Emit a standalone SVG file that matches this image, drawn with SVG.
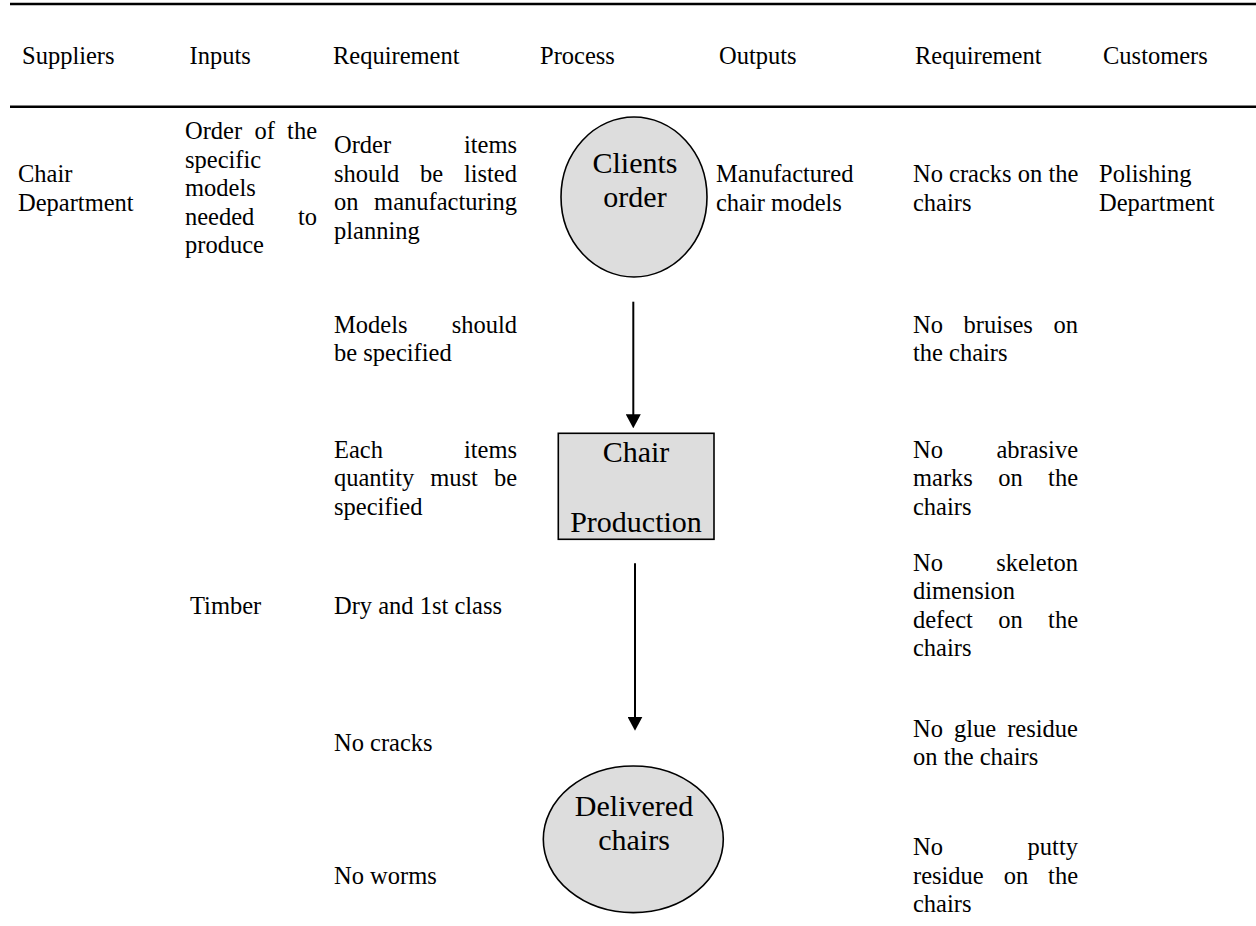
<svg xmlns="http://www.w3.org/2000/svg" width="1256" height="926" viewBox="0 0 1256 926">
<style>
.t{font-family:"Liberation Serif","Times New Roman",serif;font-size:24.5px;fill:#000}
.n{font-family:"Liberation Serif","Times New Roman",serif;font-size:30px;fill:#000;text-anchor:middle}
.shape{fill:#dddddd;stroke:#000;stroke-width:1.6}
.rule{stroke:#000;stroke-width:2.6}
.conn{stroke:#000;stroke-width:2;fill:none}
</style>
<defs>
<marker id="arr" viewBox="0 0 14 15" refX="8" refY="7.5" markerWidth="14" markerHeight="15" markerUnits="userSpaceOnUse" orient="auto">
<path d="M0,0 L14,7.5 L0,15 z" fill="#000"/>
</marker>
</defs>
<rect width="1256" height="926" fill="#fff"/>
<g id="rules">
<line class="rule" x1="10" y1="4" x2="1256" y2="4"/>
<line class="rule" x1="10" y1="106.7" x2="1256" y2="106.7"/>
</g>
<g id="headers" class="t">
<text x="22" y="64">Suppliers</text>
<text x="189.5" y="64">Inputs</text>
<text x="333" y="64">Requirement</text>
<text x="540" y="64">Process</text>
<text x="719" y="64">Outputs</text>
<text x="915" y="64">Requirement</text>
<text x="1103" y="64">Customers</text>
</g>
<g id="suppliers" class="t">
<text x="18" y="182">Chair</text>
<text x="18" y="210.5">Department</text>
</g>
<g id="inputs" class="t">
<text y="139"><tspan x="185">Order</tspan><tspan x="254.4">of</tspan><tspan x="287.1">the</tspan></text>
<text x="185" y="167.5">specific</text>
<text x="185" y="196">models</text>
<text y="224.5"><tspan x="185">needed</tspan><tspan x="297.9">to</tspan></text>
<text x="185" y="253">produce</text>
<text x="190" y="613.6">Timber</text>
</g>
<g id="input-requirements" class="t">
<text y="153.25"><tspan x="334">Order</tspan><tspan x="463.9">items</tspan></text>
<text y="181.75"><tspan x="334">should</tspan><tspan x="420">be</tspan><tspan x="463.9">listed</tspan></text>
<text y="210.25"><tspan x="334">on</tspan><tspan x="374.1">manufacturing</tspan></text>
<text x="334" y="238.75">planning</text>
<text y="332.75"><tspan x="334">Models</tspan><tspan x="451.7">should</tspan></text>
<text x="334" y="361.25">be specified</text>
<text y="457.5"><tspan x="334">Each</tspan><tspan x="463.9">items</tspan></text>
<text y="486"><tspan x="334">quantity</tspan><tspan x="430.2">must</tspan><tspan x="493.9">be</tspan></text>
<text x="334" y="514.5">specified</text>
<text x="334" y="613.6">Dry and 1st class</text>
<text x="334" y="751.2">No cracks</text>
<text x="334" y="883.8">No worms</text>
</g>
<g id="outputs" class="t">
<text x="716" y="182">Manufactured</text>
<text x="716" y="210.5">chair models</text>
</g>
<g id="output-requirements" class="t">
<text x="913" y="182">No cracks on the</text>
<text x="913" y="210.5">chairs</text>
<text y="332.75"><tspan x="913">No</tspan><tspan x="963.5">bruises</tspan><tspan x="1053.5">on</tspan></text>
<text x="913" y="361.25">the chairs</text>
<text y="457.5"><tspan x="913">No</tspan><tspan x="996.4">abrasive</tspan></text>
<text y="486"><tspan x="913">marks</tspan><tspan x="998.2">on</tspan><tspan x="1048.1">the</tspan></text>
<text x="913" y="514.5">chairs</text>
<text y="570.85"><tspan x="913">No</tspan><tspan x="996.3">skeleton</tspan></text>
<text x="913" y="599.35">dimension</text>
<text y="627.85"><tspan x="913">defect</tspan><tspan x="998.2">on</tspan><tspan x="1048.1">the</tspan></text>
<text x="913" y="656.35">chairs</text>
<text y="736.95"><tspan x="913">No</tspan><tspan x="954">glue</tspan><tspan x="1007.2">residue</tspan></text>
<text x="913" y="765.45">on the chairs</text>
<text y="855.3"><tspan x="913">No</tspan><tspan x="1027.6">putty</tspan></text>
<text y="883.8"><tspan x="913">residue</tspan><tspan x="1003.7">on</tspan><tspan x="1048.1">the</tspan></text>
<text x="913" y="912.3">chairs</text>
</g>
<g id="customers" class="t">
<text x="1099" y="182">Polishing</text>
<text x="1099" y="210.5">Department</text>
</g>
<g id="node-clients-order">
<ellipse class="shape" cx="634" cy="197" rx="73" ry="80"/>
<text class="n" x="635" y="173.3">Clients</text>
<text class="n" x="635" y="207.3">order</text>
</g>
<g id="node-chair-production">
<rect class="shape" x="558.3" y="433.3" width="155.7" height="106"/>
<text class="n" x="636" y="462.3">Chair</text>
<text class="n" x="636" y="531.7">Production</text>
</g>
<g id="node-delivered-chairs">
<ellipse class="shape" cx="633.3" cy="839.3" rx="90" ry="73.3"/>
<text class="n" x="634" y="816">Delivered</text>
<text class="n" x="634" y="850">chairs</text>
</g>
<g id="connectors">
<line class="conn" x1="633.3" y1="301.7" x2="633.3" y2="422.3" marker-end="url(#arr)"/>
<line class="conn" x1="635" y1="563.3" x2="635" y2="724.7" marker-end="url(#arr)"/>
</g>
</svg>
